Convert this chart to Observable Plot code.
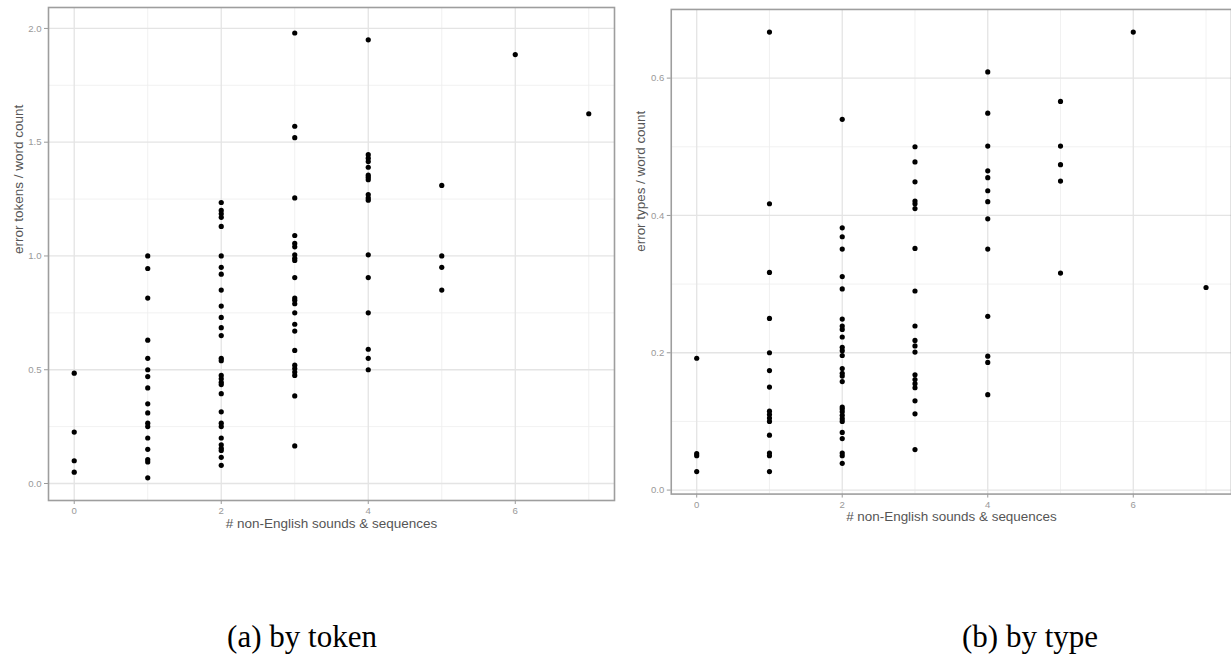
<!DOCTYPE html>
<html><head><meta charset="utf-8">
<script src="https://cdn.jsdelivr.net/npm/d3@7"></script>
<script src="https://cdn.jsdelivr.net/npm/@observablehq/plot@0.6"></script>
<style>
html,body{margin:0;padding:0;background:#fff;width:1231px;height:654px;overflow:hidden;}
#a{position:absolute;left:0;top:0;}
#b{position:absolute;left:620px;top:0;}
.cap{position:absolute;top:637px;transform:translate(-50%,-50%);font-family:"Liberation Serif","Times New Roman",serif;font-size:31px;color:#000;white-space:nowrap;}
</style></head><body>
<div id="a"></div><div id="b"></div>
<div class="cap" style="left:302px">(a) by token</div>
<div class="cap" style="left:1030px">(b) by type</div>
<script>
// x categories: # non-English sounds & sequences
const xCounts = [0, 1, 2, 3, 4, 5, 6, 7];

// (a) error tokens / word count, one array per x value
const tokensAt0 = [0.485, 0.226, 0.100, 0.050];
const tokensAt1 = [1.00, 0.945, 0.815, 0.63, 0.55, 0.50, 0.47, 0.42, 0.35, 0.31, 0.265, 0.25, 0.20, 0.15, 0.105, 0.095, 0.025];
const tokensAt2 = [1.235, 1.20, 1.185, 1.17, 1.13, 1.00, 0.95, 0.92, 0.85, 0.78, 0.73, 0.685, 0.65, 0.55, 0.54, 0.475, 0.46, 0.445, 0.435, 0.395, 0.315, 0.265, 0.25, 0.20, 0.17, 0.155, 0.145, 0.115, 0.08];
const tokensAt3 = [1.98, 1.57, 1.52, 1.255, 1.09, 1.055, 1.04, 1.005, 0.99, 0.98, 0.905, 0.815, 0.805, 0.79, 0.75, 0.70, 0.67, 0.585, 0.52, 0.505, 0.49, 0.475, 0.385, 0.165];
const tokensAt4 = [1.95, 1.445, 1.43, 1.415, 1.39, 1.355, 1.345, 1.335, 1.27, 1.255, 1.245, 1.005, 0.905, 0.75, 0.59, 0.55, 0.50];
const tokensAt5 = [1.31, 1.00, 0.95, 0.85];
const tokensAt6 = [1.885];
const tokensAt7 = [1.625];

// (b) error types / word count, one array per x value
const typesAt0 = [0.192, 0.053, 0.050, 0.027];
const typesAt1 = [0.667, 0.417, 0.317, 0.25, 0.20, 0.174, 0.15, 0.115, 0.11, 0.105, 0.10, 0.08, 0.054, 0.05, 0.027];
const typesAt2 = [0.54, 0.382, 0.369, 0.351, 0.311, 0.293, 0.249, 0.239, 0.234, 0.223, 0.208, 0.203, 0.196, 0.177, 0.17, 0.166, 0.158, 0.121, 0.118, 0.114, 0.109, 0.104, 0.10, 0.084, 0.075, 0.054, 0.05, 0.039];
const typesAt3 = [0.50, 0.478, 0.449, 0.421, 0.417, 0.41, 0.352, 0.29, 0.239, 0.218, 0.21, 0.201, 0.168, 0.161, 0.155, 0.149, 0.13, 0.111, 0.059];
const typesAt4 = [0.609, 0.549, 0.501, 0.465, 0.455, 0.436, 0.42, 0.395, 0.351, 0.253, 0.195, 0.186, 0.139];
const typesAt5 = [0.566, 0.501, 0.474, 0.45, 0.316];
const typesAt6 = [0.667];
const typesAt7 = [0.295];

// axis breaks
const xMajor = [0, 2, 4, 6];
const xMinor = [1, 3, 5, 7];
const tokYMajor = [0, 0.5, 1.0, 1.5, 2.0];
const tokYMinor = [0.25, 0.75, 1.25, 1.75];
const typYMajor = [0, 0.2, 0.4, 0.6];
const typYMinor = [0.1, 0.3, 0.5];

const xTitle = "# non-English sounds & sequences";
const tokTitle = "error tokens / word count";
const typTitle = "error types / word count";

function rows(groups) {
  const out = [];
  groups.forEach((vals, i) => vals.forEach(v => out.push({x: xCounts[i], y: v})));
  return out;
}
const tokenRows = rows([tokensAt0, tokensAt1, tokensAt2, tokensAt3, tokensAt4, tokensAt5, tokensAt6, tokensAt7]);
const typeRows = rows([typesAt0, typesAt1, typesAt2, typesAt3, typesAt4, typesAt5, typesAt6, typesAt7]);

const FONT = "'Liberation Sans', Arial, sans-serif";

function panel(data, opts) {
  return Plot.plot({
    width: opts.width, height: 540,
    marginLeft: opts.ml, marginRight: opts.mr, marginTop: opts.mt, marginBottom: 540 - opts.bottom,
    style: {fontFamily: FONT, fontSize: "9.6px", background: "transparent", overflow: "visible"},
    x: {domain: [-0.35, 7.35], label: null},
    y: {domain: opts.ydomain, label: null},
    marks: [
      Plot.gridX({ticks: xMinor, stroke: "#ededed", strokeOpacity: 1, strokeWidth: 0.8}),
      Plot.gridY({ticks: opts.yMinor, stroke: "#ededed", strokeOpacity: 1, strokeWidth: 0.8}),
      Plot.gridX({ticks: xMajor, stroke: "#e4e4e4", strokeOpacity: 1, strokeWidth: 1.3}),
      Plot.gridY({ticks: opts.yMajor, stroke: "#e4e4e4", strokeOpacity: 1, strokeWidth: 1.3}),
      Plot.axisX({ticks: xMajor, tickSize: 4, tickPadding: 3, tickFormat: d => String(d), stroke: "#9a9a9a", fill: "#999", fontSize: 9.6, label: null}),
      Plot.axisY({ticks: opts.yMajor, tickSize: 4, tickPadding: 3, tickFormat: d3.format(".1f"), stroke: "#9a9a9a", fill: "#999", fontSize: 9.6, label: null}),
      Plot.frame({stroke: "#9e9e9e", strokeWidth: 1.6}),
      Plot.dot(data, {x: "x", y: "y", r: 2.6, fill: "#000", stroke: "none"}),
      Plot.text([xTitle], {text: d => d, frameAnchor: "bottom", dy: opts.xtdy, fontSize: 13.5, fill: "#555"}),
      Plot.text([opts.ytitle], {text: d => d, frameAnchor: "left", dx: opts.ytdx, rotate: -90, fontSize: 13.5, fill: "#555"})
    ]
  });
}

document.getElementById("a").append(panel(tokenRows, {
  width: 620, ml: 48, mr: 6, mt: 7, bottom: 500,
  ydomain: [-0.0747, 2.092], yMajor: tokYMajor, yMinor: tokYMinor,
  ytitle: tokTitle, xtdy: 27, ytdx: -30
}));
document.getElementById("b").append(panel(typeRows, {
  width: 614, ml: 51, mr: 0, mt: 9, bottom: 496,
  ydomain: [-0.0058, 0.700], yMajor: typYMajor, yMinor: typYMinor,
  ytitle: typTitle, xtdy: 27, ytdx: -31
}));
</script>
</body></html>
